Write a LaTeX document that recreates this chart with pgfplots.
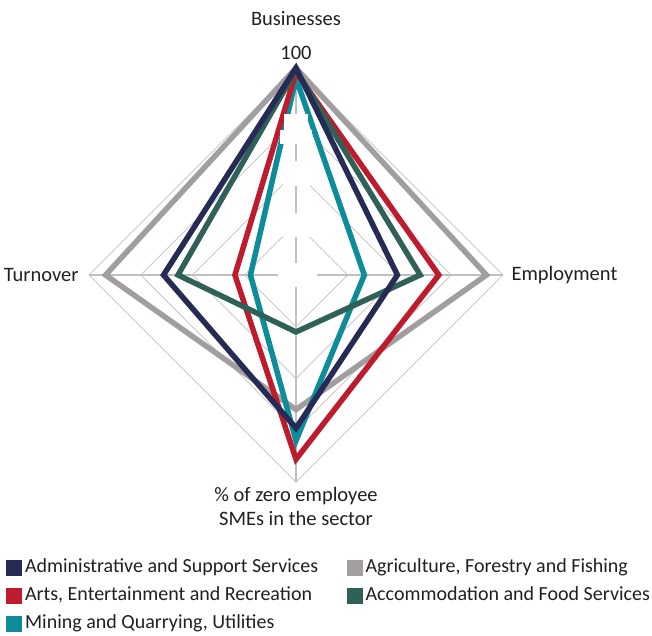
\documentclass[border=0pt]{standalone}
\usepackage{fontspec}
\setmainfont{Carlito}
\usepackage{pgfplots}
\pgfplotsset{compat=1.18}
\usepgfplotslibrary{polar}
\definecolor{cNavy}{HTML}{262B55}
\definecolor{cGray}{HTML}{A19DA0}
\definecolor{cRed}{HTML}{BE1B2C}
\definecolor{cGreen}{HTML}{2F6158}
\definecolor{cCyan}{HTML}{0D8C9A}
\definecolor{cGrid}{HTML}{CACACA}
\definecolor{cSpoke}{HTML}{C0C0C0}
\definecolor{cText}{HTML}{231F20}
\newcommand\lblfont{\fontsize{20.5pt}{24pt}\selectfont}
\newcommand\legfont{\fontsize{20pt}{24pt}\selectfont}
\begin{document}
\begin{tikzpicture}
\begin{polaraxis}[
  scale only axis, width=414pt, height=414pt,
  xmin=0, xmax=360, ymin=0, ymax=100,
  hide axis, grid=none, xtick=\empty, ytick=\empty, clip=false,
  legend columns=2,
  legend cell align=left,
  legend image code/.code={\fill[#1] (0pt,-7.5pt) rectangle (15pt,7.5pt);},
  legend style={draw=none, fill=none, inner sep=0pt, font=\legfont, text=cText,
    at={(-0.2005,-0.184)}, anchor=north west,
    nodes={inner ysep=0pt, inner xsep=3.5pt, text height=14pt, text depth=5pt},
    row sep=9pt,
    /tikz/every even column/.append style={column sep=25pt}},
]
\coordinate (C) at (axis cs:0,0);
% grid diamonds
\addplot[cGrid, line width=0.8pt, forget plot] coordinates {(90,25)(0,25)(270,25)(180,25)} -- cycle;
\addplot[cGrid, line width=0.8pt, forget plot] coordinates {(90,50)(0,50)(270,50)(180,50)} -- cycle;
\addplot[cGrid, line width=0.8pt, forget plot] coordinates {(90,75)(0,75)(270,75)(180,75)} -- cycle;
\addplot[cGrid, line width=0.8pt, forget plot] coordinates {(90,100)(0,100)(270,100)(180,100)} -- cycle;
% spokes
\addplot[cSpoke, line width=1.1pt, forget plot] coordinates {(90,100)(270,100)};
\addplot[cSpoke, line width=1.1pt, forget plot] coordinates {(0,100)(180,100)};
% data: (angle, value); 90 Businesses, 0 Employment, 270 zero-employee, 180 Turnover
\addplot[cGray, line width=5.5pt, line join=miter, forget plot] coordinates {(90,100)(0,92)(270,65)(180,92)} -- cycle;
\addplot[cCyan, line width=5.5pt, line join=miter, forget plot] coordinates {(90,95)(0,33)(270,80)(180,22)} -- cycle;
\addplot[cRed, line width=5.5pt, line join=miter, forget plot] coordinates {(90,98)(0,69)(270,89)(180,29.5)} -- cycle;
\addplot[cGreen, line width=5.5pt, line join=miter, forget plot] coordinates {(90,99)(0,60)(270,27.5)(180,57)} -- cycle;
\addplot[cNavy, line width=5.5pt, line join=miter, forget plot] coordinates {(90,100)(0,49)(270,74)(180,64)} -- cycle;
% hidden label boxes
\node[fill=white, inner sep=0pt, minimum width=32pt, minimum height=14pt] at (axis cs:90,66.7) {};
\node[fill=white, inner sep=0pt, minimum width=24pt, minimum height=24pt] at (axis cs:90,72) {};
\node[fill=white, inner sep=0pt, minimum width=27pt, minimum height=25pt] at (axis cs:90,49) {};
\node[fill=white, inner sep=0pt, minimum width=27pt, minimum height=24pt] at (axis cs:90,24) {};
\node[fill=white, inner sep=0pt, minimum width=39pt, minimum height=24pt] at (axis cs:0,0.5) {};
% labels
\node[font=\lblfont, text=cText] at (axis cs:90,124) {Businesses};
\node[font=\lblfont, text=cText] at (axis cs:90,107.5) {100};
\node[font=\lblfont, text=cText, anchor=east] at (axis cs:180,103.4) {Turnover};
\node[font=\lblfont, text=cText, anchor=west] at (axis cs:0,102.4) {Employment};
\node[font=\lblfont, text=cText, align=center] at (axis cs:270,111.6) {\% of zero employee\\SMEs in the sector};
% legend
\addlegendimage{cNavy}\addlegendentry{Administrative and Support Services}
\addlegendimage{cGray}\addlegendentry{Agriculture, Forestry and Fishing}
\addlegendimage{cRed}\addlegendentry{Arts, Entertainment and Recreation}
\addlegendimage{cGreen}\addlegendentry{Accommodation and Food Services}
\addlegendimage{cCyan}\addlegendentry{Mining and Quarrying, Utilities}
\end{polaraxis}
\pgfresetboundingbox
\path[use as bounding box] ([shift={(-296pt,-360pt)}]C) rectangle ([shift={(356pt,275pt)}]C);
\end{tikzpicture}
\end{document}
